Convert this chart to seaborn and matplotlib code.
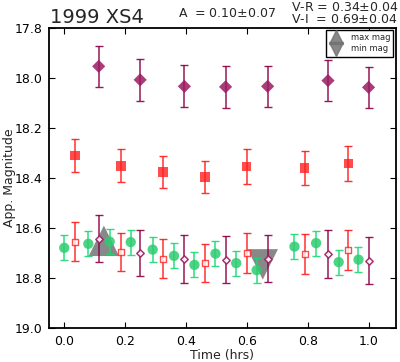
import matplotlib
matplotlib.use("Agg")
import matplotlib.pyplot as plt
import seaborn as sns
import pandas as pd
from matplotlib.lines import Line2D

sns.set_style("ticks")
plt.rcParams['font.family'] = ['DejaVu Sans']

# V band (green circles)
t_V = [0.001, 0.080, 0.150, 0.219, 0.291, 0.361, 0.428, 0.497, 0.565, 0.632, 0.756, 0.827, 0.901, 0.966]
mag_V = [18.680, 18.664, 18.655, 18.657, 18.687, 18.712, 18.748, 18.703, 18.741, 18.769, 18.675, 18.661, 18.737, 18.727]
err_V = [0.050] * 14

# R band: shifted (open squares) and observed (filled squares)
t_R = [0.036, 0.186, 0.325, 0.463, 0.599, 0.789, 0.933]
mag_R_shift = [18.655, 18.697, 18.723, 18.741, 18.700, 18.705, 18.688]
err_R_shift = [0.077, 0.077, 0.077, 0.076, 0.079, 0.080, 0.080]
mag_R = [18.311, 18.352, 18.377, 18.397, 18.355, 18.361, 18.343]
err_R = [0.066, 0.067, 0.065, 0.064, 0.070, 0.069, 0.071]

# I band: shifted (open diamonds) and observed (filled diamonds)
t_I = [0.114, 0.250, 0.395, 0.530, 0.668, 0.866, 0.999]
mag_I_shift = [18.644, 18.700, 18.725, 18.727, 18.724, 18.704, 18.731]
err_I_shift = [0.094, 0.093, 0.095, 0.095, 0.094, 0.095, 0.095]
mag_I = [17.955, 18.009, 18.035, 18.037, 18.035, 18.012, 18.039]
err_I = [0.083, 0.083, 0.084, 0.083, 0.083, 0.083, 0.083]

# extrema
t_max, mag_max = [0.131], [18.652]
t_min, mag_min = [0.652], [18.746]

title = "1999 XS4"
amp_text = r"A  = 0.10$\pm$0.07"
vr_text = r"V-R = 0.34$\pm$0.04"
vi_text = r"V-I  = 0.69$\pm$0.04"

green = '#2ecc71'
green_e = '#19d873'
red = '#ff2020'
red_e = '#ff1a1a'
purple = '#9b1b62'
purple_e = '#8c0046'

fig = plt.figure(figsize=(4.0, 3.62), dpi=100)
ax = fig.add_axes([0.1225, 0.094, 0.8675, 0.830])

# triangles (extrema)
sns.scatterplot(x=t_max, y=mag_max, marker='^', s=480, color='0.45', alpha=0.85,
                edgecolor='none', ax=ax, zorder=1)
sns.scatterplot(x=t_min, y=mag_min, marker='v', s=480, color='0.45', alpha=0.85,
                edgecolor='none', ax=ax, zorder=1)

def eb(t, m, e, c):
    ax.errorbar(t, m, yerr=e, fmt='none', ecolor=c, elinewidth=1.1, capsize=2.6,
                capthick=1.0, alpha=0.9, zorder=2)

eb(t_V, mag_V, err_V, green_e)
sns.scatterplot(x=t_V, y=mag_V, marker='o', s=55, color=green, alpha=0.85,
                edgecolor='none', ax=ax, zorder=3)

eb(t_R, mag_R_shift, err_R_shift, red_e)
sns.scatterplot(x=t_R, y=mag_R_shift, marker='s', s=16, facecolor='white',
                edgecolor=red, linewidth=1.0, alpha=0.8, ax=ax, zorder=3)
eb(t_R, mag_R, err_R, red_e)
sns.scatterplot(x=t_R, y=mag_R, marker='s', s=50, color=red, alpha=0.8,
                edgecolor='none', ax=ax, zorder=3)

eb(t_I, mag_I_shift, err_I_shift, purple_e)
sns.scatterplot(x=t_I, y=mag_I_shift, marker='D', s=14, facecolor='white',
                edgecolor=purple, linewidth=1.1, alpha=0.9, ax=ax, zorder=3)
eb(t_I, mag_I, err_I, purple_e)
sns.scatterplot(x=t_I, y=mag_I, marker='D', s=45, color=purple, alpha=0.85,
                edgecolor='none', ax=ax, zorder=3)

ax.set_xlim(-0.049, 1.089)
ax.set_ylim(19.0, 17.8)
ax.set_xticks([0.0, 0.2, 0.4, 0.6, 0.8, 1.0])
ax.set_yticks([17.8, 18.0, 18.2, 18.4, 18.6, 18.8, 19.0])
ax.set_xticklabels(['0.0', '0.2', '0.4', '0.6', '0.8', '1.0'])
ax.set_yticklabels(['17.8', '18.0', '18.2', '18.4', '18.6', '18.8', '19.0'])
ax.tick_params(direction='in', top=True, right=True, labelsize=9, length=4,
               width=0.8, colors='black', pad=5)
for s in ax.spines.values():
    s.set_linewidth(1.3)
    s.set_color('black')
ax.set_xlabel('Time (hrs)', fontsize=9, labelpad=1)
ax.set_ylabel('App. Magnitude', fontsize=9)
ax.yaxis.set_label_coords(-0.095, 0.5)

handles = [Line2D([], [], marker='^', linestyle='none', color='0.45', alpha=0.85, markersize=10),
           Line2D([], [], marker='v', linestyle='none', color='0.45', alpha=0.85, markersize=10)]
leg = ax.legend(handles, ['max mag', 'min mag'], loc='upper right', fontsize=6,
                fancybox=False, framealpha=1, edgecolor='black', handlelength=1.6,
                handletextpad=1.0, labelspacing=0.25, borderpad=0.4,
                borderaxespad=0.3, bbox_to_anchor=(1.0, 1.0))
leg.get_frame().set_linewidth(1.0)

fig.text(0.125, 0.936, title, fontsize=14, ha='left', va='baseline')
fig.text(0.568, 0.963, amp_text, fontsize=9, ha='center', va='center')
fig.text(0.728, 0.980, vr_text, fontsize=9, ha='left', va='center')
fig.text(0.728, 0.946, vi_text, fontsize=9, ha='left', va='center')

fig.savefig('out.png', dpi=100)
